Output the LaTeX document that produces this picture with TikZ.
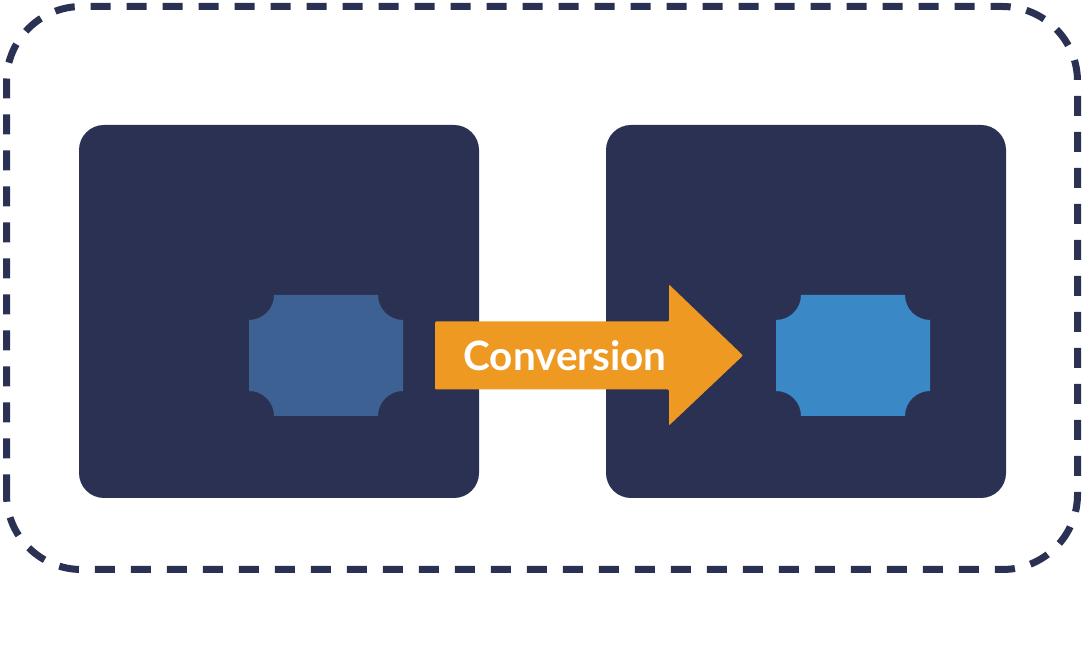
\documentclass[tikz,border=0pt]{standalone}
\usepackage{fontspec}
\setsansfont{Lato}
\usepackage{tikz}
\usetikzlibrary{positioning,calc}
\definecolor{ink}{HTML}{2B3152}
\definecolor{denim}{HTML}{3E6193}
\definecolor{sky}{HTML}{3A88C5}
\definecolor{amber}{HTML}{EE9922}
% chip with scooped corners, drawn on a named placeholder node
\newcommand{\scoopchip}[2]{%
  \fill[#2] ([xshift=5mm]#1.north west) -- ([xshift=-5mm]#1.north east)
    arc[start angle=180,end angle=270,radius=5mm]
    -- ([yshift=5mm]#1.south east)
    arc[start angle=90,end angle=180,radius=5mm]
    -- ([xshift=5mm]#1.south west)
    arc[start angle=0,end angle=90,radius=5mm]
    -- ([yshift=-5mm]#1.north west)
    arc[start angle=270,end angle=360,radius=5mm] -- cycle;}
\begin{document}
\begin{tikzpicture}[
  frame/.style={draw=ink,line width=0.14cm,rounded corners=1.5cm,
    dash pattern=on 0.4cm off 0.32cm},
  panel/.style={fill=ink,rounded corners=0.5cm,minimum width=8cm,
    minimum height=7.46cm,inner sep=0pt,outer sep=0pt},
  chipbox/.style={minimum width=3.08cm,minimum height=2.42cm,
    inner sep=0pt,outer sep=0pt},
  tag/.style={text=white,font=\sffamily\bfseries\fontsize{23}{26}\selectfont},
  node distance=2.54cm]
 \useasboundingbox (0,0) rectangle (21.66,12.88);
 \draw[frame] (0.13,1.49) rectangle (21.55,12.75);
 \node[panel] (src) at (5.58,6.65) {};
 \node[panel,right=of src] (dst) {};
 \node[chipbox] (chipA) at (6.52,5.77) {};
 \node[chipbox] (chipB) at ($(dst.center)+(0.94,-0.88)$) {};
 \scoopchip{chipA}{denim}
 \scoopchip{chipB}{sky}
 \coordinate (tail) at ([xshift=6.4mm]chipA.east);
 \coordinate (tip) at ([xshift=-6.6mm]chipB.west);
 \fill[amber,rounded corners=0.6pt] ($(tail)+(0,0.68)$) -- ($(tip)+(-1.48,0.68)$)
   -- ($(tip)+(-1.48,1.42)$) -- (tip) -- ($(tip)+(-1.48,-1.4)$)
   -- ($(tip)+(-1.48,-0.68)$) -- ($(tail)+(0,-0.68)$) -- cycle;
 \node[tag] (convlabel) at (11.30,5.76) {Conversion};
\end{tikzpicture}
\end{document}
